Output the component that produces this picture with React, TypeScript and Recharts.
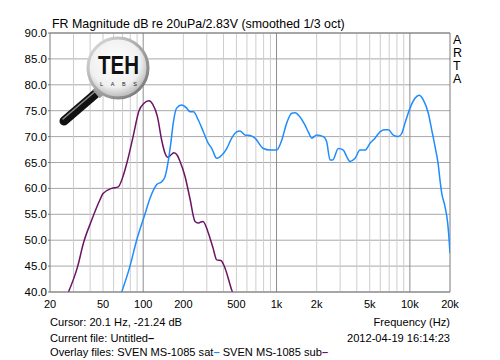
import { CartesianGrid, Line, LineChart, ReferenceLine, XAxis, YAxis } from 'recharts';

// SVEN MS-1085 satellite (blue) and subwoofer (purple), 1/3 oct smoothed
const satFreq = [69, 79.6, 89.3, 103, 112.5, 126, 137.6, 146, 154, 161, 168, 178, 194, 212, 224, 238, 259, 283, 308, 327, 356, 388, 423, 461, 503, 532, 580, 632, 690, 796, 893, 1003, 1094, 1192, 1300, 1376, 1500, 1636, 1731, 1837, 2001, 2244, 2378, 2518, 2638, 2906, 3169, 3362, 3557, 3879, 4227, 4610, 5024, 5477, 5970, 6510, 6892, 7514, 8192, 8688, 9194, 10024, 10932, 11712, 12614, 13752, 14584, 15438, 16346, 16827, 17336, 18352, 19218, 19656, 20000];
const satDb = [40, 45, 50, 55, 58.1, 60.7, 61.3, 62.3, 65.2, 68.7, 72.6, 75.5, 76.1, 75.5, 74.8, 74.8, 73.2, 70.9, 68.7, 67.7, 65.8, 66.4, 67.7, 69.7, 70.9, 71.1, 70.3, 70.2, 69.7, 67.7, 67.4, 67.4, 69.3, 72.6, 74.5, 74.6, 73.8, 72.2, 70.9, 69.7, 70.3, 70.0, 69.0, 65.5, 65.5, 67.7, 67.4, 66.1, 65.2, 65.8, 67.4, 67.4, 68.7, 69.7, 70.9, 71.3, 71.3, 70.3, 70.0, 70.6, 72.6, 75.5, 77.4, 78.0, 77.1, 74.5, 71.3, 68.1, 64.5, 61.6, 59.1, 56.5, 53.3, 50.4, 47.5];

const subFreq = [27.5, 32.3, 35.6, 41.1, 47.4, 50, 58, 65, 70.5, 75.6, 84, 93, 101, 110.5, 118, 128, 137.6, 145.8, 153.5, 162, 170, 180, 189, 206, 224, 245, 258, 270, 281, 306, 334, 356, 383, 411, 461, 470];
const subDb = [40, 45, 49.4, 53.9, 57.8, 59.0, 60.0, 60.3, 62.3, 65, 70, 75, 76.4, 76.9, 76.2, 73.8, 69.3, 66.8, 66.0, 66.5, 66.9, 66.4, 65.2, 62.3, 58.1, 53.6, 53.3, 53.5, 53.6, 51.6, 48.5, 46.2, 46.1, 44.6, 40.4, 39.8];

const freqTicks = [20, 50, 100, 200, 500, 1000, 2000, 5000, 10000, 20000];
const dbTicks = [40, 45, 50, 55, 60, 65, 70, 75, 80, 85, 90];
const minorGrid = [30, 40, 50, 60, 70, 80, 90, 200, 300, 400, 500, 600, 700, 800, 900, 2000, 3000, 4000, 5000, 6000, 7000, 8000, 9000];
const decadeGrid = [100, 1000, 10000];

const satData = satFreq.map((f, i) => ({ f, db: satDb[i] }));
const subData = subFreq.map((f, i) => ({ f, db: subDb[i] }));

const FONT = '"Liberation Sans", Arial, sans-serif';
const BLUE = '#1e8cff';
const PURPLE = '#6a1466';

const fmtFreq = (v: number) => (v >= 1000 ? `${v / 1000}k` : `${v}`);

function Logo() {
  return (
    <g>
      <defs>
        <radialGradient id="lens" cx="45%" cy="40%" r="60%">
          <stop offset="0%" stopColor="#ffffff" />
          <stop offset="70%" stopColor="#f0f0f0" />
          <stop offset="100%" stopColor="#b8b8b8" />
        </radialGradient>
        <linearGradient id="rim" x1="0" y1="0" x2="1" y2="1">
          <stop offset="0%" stopColor="#e0e0e0" />
          <stop offset="100%" stopColor="#707070" />
        </linearGradient>
      </defs>
      <line x1={100} y1={90} x2={64} y2={121} stroke="#111" strokeWidth={9} strokeLinecap="round" />
      <line x1={98} y1={89} x2={63} y2={119} stroke="#888" strokeWidth={1.5} strokeLinecap="round" />
      <line x1={103} y1={88} x2={96} y2={94} stroke="#999" strokeWidth={11} />
      <circle cx={118} cy={68} r={30} fill="url(#lens)" stroke="url(#rim)" strokeWidth={3} />
      <text x={98} y={74} fontFamily={FONT} fontWeight="bold" fontSize={25} textLength={41} lengthAdjust="spacingAndGlyphs" fill="#111">TEH</text>
      <text x={100} y={86} fontFamily={FONT} fontSize={5.5} textLength={37} fill="#222">LABS</text>
    </g>
  );
}

export default function App() {
  return (
    <div style={{ position: 'absolute', left: 0, top: 0, width: 500, height: 360, background: '#fff' }}>
      <LineChart width={500} height={360} margin={{ top: 33, right: 50, bottom: 48, left: 0 }}>
        <CartesianGrid vertical={false} stroke="#a8a8a8" strokeWidth={1} />
        {minorGrid.map((f) => (
          <ReferenceLine key={f} x={f} stroke="#cdcdcd" strokeWidth={1} />
        ))}
        {decadeGrid.map((f) => (
          <ReferenceLine key={f} x={f} stroke="#8e8e8e" strokeWidth={1} />
        ))}
        <ReferenceLine y={90} stroke="#7a7a7a" />
        <ReferenceLine x={20000} stroke="#7a7a7a" />
        <XAxis
          dataKey="f"
          type="number"
          scale="log"
          domain={[20, 20000]}
          ticks={freqTicks}
          tickFormatter={fmtFreq}
          allowDataOverflow
          height={20}
          stroke="#7a7a7a"
          tickLine={false}
          tickSize={6}
          tickMargin={2}
          tick={{ fill: '#000', fontSize: 11, fontFamily: FONT }}
        />
        <YAxis
          type="number"
          domain={[40, 90]}
          ticks={dbTicks}
          tickFormatter={(v: number) => v.toFixed(1)}
          allowDataOverflow
          width={50}
          stroke="#7a7a7a"
          tickSize={2}
          tickMargin={1}
          tick={{ fill: '#000', fontSize: 11.5, fontFamily: FONT }}
        />
        <Line data={subData} dataKey="db" type="monotone" stroke={PURPLE} strokeWidth={1.5} dot={false} isAnimationActive={false} />
        <Line data={satData} dataKey="db" type="monotone" stroke={BLUE} strokeWidth={1.5} dot={false} isAnimationActive={false} />
      </LineChart>
      <svg width={500} height={360} style={{ position: 'absolute', left: 0, top: 0, pointerEvents: 'none' }}>
        <Logo />
        <text x={52} y={28} fontFamily={FONT} fontSize={12.4} fill="#000">FR Magnitude dB re 20uPa/2.83V (smoothed 1/3 oct)</text>
        {['A', 'R', 'T', 'A'].map((c, i) => (
          <text key={i} x={453} y={44 + i * 13} fontFamily={FONT} fontSize={12.5} fill="#000">{c}</text>
        ))}
        <g fontFamily={FONT} fontSize={11.1} fill="#000" style={{ whiteSpace: 'pre' }}>
          <text x={50} y={326}>Cursor: 20.1 Hz, -21.24 dB</text>
          <text x={450} y={326} textAnchor="end">Frequency (Hz)</text>
          <text x={50} y={342}>Current file: Untitled<tspan fontWeight="bold">–</tspan></text>
          <text x={450} y={342} textAnchor="end">2012-04-19  16:14:23</text>
          <text x={50} y={356}>
            Overlay files: SVEN MS-1085 sat<tspan fill={BLUE} fontWeight="bold">–</tspan> SVEN MS-1085 sub<tspan fill={PURPLE} fontWeight="bold">–</tspan>
          </text>
        </g>
      </svg>
    </div>
  );
}
